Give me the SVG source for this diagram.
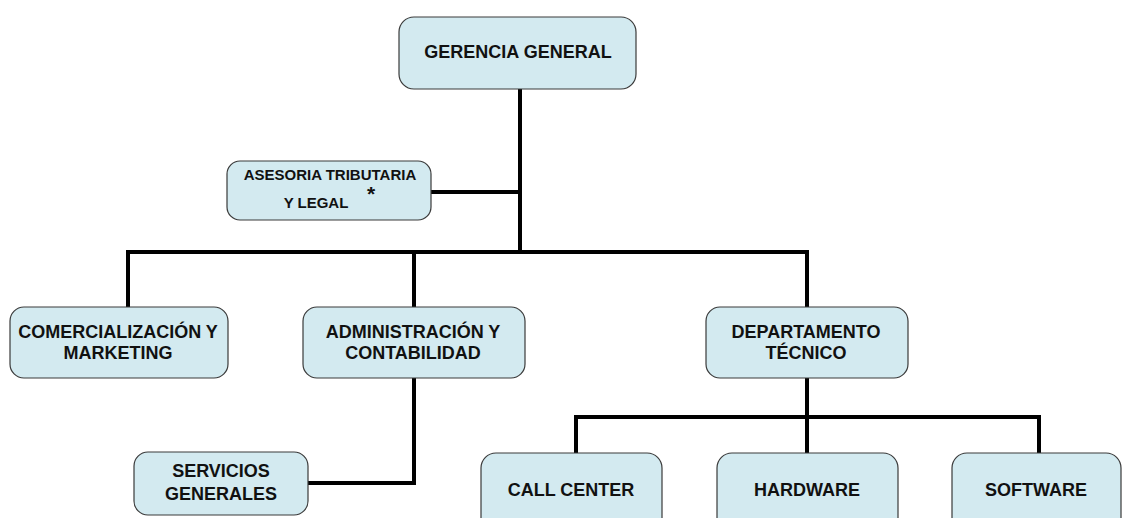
<svg xmlns="http://www.w3.org/2000/svg" width="1123" height="518" viewBox="0 0 1123 518">
  <style>
    .box { fill: #d3eaf0; stroke: #3a3a3a; stroke-width: 1.2; }
    .lbl { font-family: "Liberation Sans", Arial, sans-serif; font-weight: bold; font-size: 18px; fill: #111; text-anchor: middle; }
    .small { font-size: 15px; }
    .wire { fill: none; stroke: #000; stroke-width: 4; stroke-linecap: butt; stroke-linejoin: miter; }
  </style>
  <rect width="1123" height="518" fill="#fff"/>

  <!-- connectors -->
  <g id="connectors" class="wire">
    <path d="M520 89 V254"/>
    <path d="M431 192 H520"/>
    <path d="M126 252 H807 V307"/>
    <path d="M128 252 V307"/>
    <path d="M414 252 V307"/>
    <path d="M414 378 V483 H308"/>
    <path d="M807 378 V453"/>
    <path d="M574 417 H1039 V453"/>
    <path d="M576 417 V453"/>
  </g>

  <g id="gerencia-general">
    <rect class="box" x="399" y="17" width="237" height="72" rx="15"/>
    <text class="lbl" x="518" y="58">GERENCIA GENERAL</text>
  </g>

  <g id="asesoria">
    <rect class="box" x="227" y="161" width="204" height="59" rx="13"/>
    <text class="lbl small" x="330" y="180">ASESORIA TRIBUTARIA</text>
    <text class="lbl small" x="316" y="208">Y LEGAL</text>
    <text class="lbl" x="371" y="201" style="font-size:21px">*</text>
  </g>

  <g id="comercializacion">
    <rect class="box" x="10" y="307" width="218" height="71" rx="14"/>
    <text class="lbl" x="118" y="338">COMERCIALIZACIÓN Y</text>
    <text class="lbl" x="118" y="359">MARKETING</text>
  </g>

  <g id="administracion">
    <rect class="box" x="303" y="307" width="222" height="71" rx="14"/>
    <text class="lbl" x="413" y="338">ADMINISTRACIÓN Y</text>
    <text class="lbl" x="413" y="359">CONTABILIDAD</text>
  </g>

  <g id="departamento-tecnico">
    <rect class="box" x="706" y="307" width="202" height="71" rx="14"/>
    <text class="lbl" x="806" y="338">DEPARTAMENTO</text>
    <text class="lbl" x="806" y="359">TÉCNICO</text>
  </g>

  <g id="servicios-generales">
    <rect class="box" x="134" y="452" width="174" height="63" rx="14"/>
    <text class="lbl" x="221" y="477">SERVICIOS</text>
    <text class="lbl" x="221" y="500">GENERALES</text>
  </g>

  <g id="call-center">
    <rect class="box" x="481" y="453" width="181" height="80" rx="15"/>
    <text class="lbl" x="571" y="496">CALL CENTER</text>
  </g>

  <g id="hardware">
    <rect class="box" x="717" y="453" width="181" height="80" rx="15"/>
    <text class="lbl" x="807" y="496">HARDWARE</text>
  </g>

  <g id="software">
    <rect class="box" x="952" y="453" width="169" height="80" rx="15"/>
    <text class="lbl" x="1036" y="496">SOFTWARE</text>
  </g>
</svg>
